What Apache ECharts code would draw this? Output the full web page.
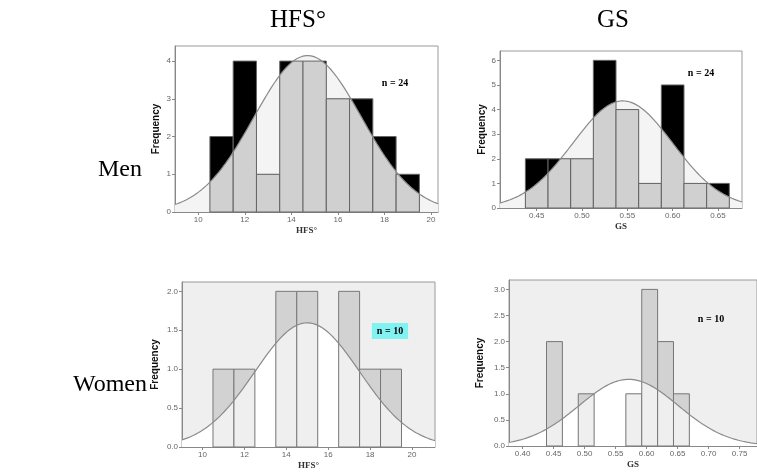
<!DOCTYPE html>
<html>
<head>
<meta charset="utf-8">
<script src="https://cdn.jsdelivr.net/npm/echarts@6/dist/echarts.min.js"></script>
<style>
html,body{margin:0;padding:0;background:#fff;overflow:hidden}
#chart{width:757px;height:472px}
</style>
</head>
<body>
<div id="chart"></div>
<script>
// men, HFS
var hfsMenStart = 10.5, hfsMenWidth = 1;
var hfsMenCounts = [2, 4, 1, 4, 4, 3, 3, 2, 1];
var hfsMenMean = 14.7, hfsMenSd = 2.31;
// men, GS
var gsMenStart = 0.4375, gsMenWidth = 0.025;
var gsMenCounts = [2, 2, 2, 6, 4, 1, 5, 1, 1];
var gsMenMean = 0.545, gsMenSd = 0.055;
// women, HFS
var hfsWomenStart = 10.5, hfsWomenWidth = 1;
var hfsWomenCounts = [1, 1, 0, 2, 2, 0, 2, 1, 1];
var hfsWomenMean = 15.0, hfsWomenSd = 2.5;
// women, GS
var gsWomenStart = 0.4385, gsWomenWidth = 0.0256;
var gsWomenCounts = [2, 0, 1, 0, 0, 1, 3, 2, 1];
var gsWomenMean = 0.571, gsWomenSd = 0.08;

// tick labels
var hfsTicks = [10, 12, 14, 16, 18, 20];
var gsMenTicks = [0.45, 0.50, 0.55, 0.60, 0.65];
var gsWomenTicks = [0.40, 0.45, 0.50, 0.55, 0.60, 0.65, 0.70, 0.75];
var freqHfsMen = [0, 1, 2, 3, 4];
var freqGsMen = [0, 1, 2, 3, 4, 5, 6];
var freqHfsWomen = [0, 0.5, 1.0, 1.5, 2.0];
var freqGsWomen = [0, 0.5, 1.0, 1.5, 2.0, 2.5, 3.0];

var nMen = 24, nWomen = 10;

function normalCurve(n, w, m, sd){
	return function(x){
		var z = (x - m) / sd;
		return n * w / (sd * Math.sqrt(2 * Math.PI)) * Math.exp(-0.5 * z * z);
	};
}

var menStyle = {bg: '#ffffff', under: '#f4f4f4', above: '#000000', below: '#d0d0d0', edge: '#666666'};
var womenStyle = {bg: '#efefef', under: '#ffffff', above: '#d2d2d2', below: '#efefef', edge: '#777777'};

var panels = [
	{grid: {left: 175, top: 46, width: 263, height: 166}, xmin: 9, xmax: 20.3, ymax: 4.4, ygap: 14,
	 start: hfsMenStart, w: hfsMenWidth, counts: hfsMenCounts, n: nMen, mean: hfsMenMean, sd: hfsMenSd,
	 xticks: hfsTicks, yticks: freqHfsMen, xdec: 0, ydec: 0, xname: 'HFS°', st: menStyle},
	{grid: {left: 500, top: 51, width: 242, height: 157}, xmin: 0.4095, xmax: 0.6765, ymax: 6.38, ygap: 12,
	 start: gsMenStart, w: gsMenWidth, counts: gsMenCounts, n: nMen, mean: gsMenMean, sd: gsMenSd,
	 xticks: gsMenTicks, yticks: freqGsMen, xdec: 2, ydec: 0, xname: 'GS', st: menStyle},
	{grid: {left: 182, top: 282, width: 253, height: 165}, xmin: 9.02, xmax: 21.1, ymax: 2.12, ygap: 22,
	 start: hfsWomenStart, w: hfsWomenWidth, counts: hfsWomenCounts, n: nWomen, mean: hfsWomenMean, sd: hfsWomenSd,
	 xticks: hfsTicks, yticks: freqHfsWomen, xdec: 0, ydec: 1, xname: 'HFS°', st: womenStyle},
	{grid: {left: 509, top: 280, right: -10, height: 166}, xmin: 0.378, xmax: 0.778, ymax: 3.18, ygap: 24,
	 start: gsWomenStart, w: gsWomenWidth, counts: gsWomenCounts, n: nWomen, mean: gsWomenMean, sd: gsWomenSd,
	 xticks: gsWomenTicks, yticks: freqGsWomen, xdec: 2, ydec: 1, xname: 'GS', st: womenStyle}
];

var grids = [], xAxes = [], yAxes = [], series = [];

panels.forEach(function(p, i){
	p.curve = normalCurve(p.n, p.w, p.mean, p.sd);
	var g = Object.assign({show: true, backgroundColor: p.st.bg, borderColor: '#9a9a9a', borderWidth: 1}, p.grid);
	grids.push(g);
	xAxes.push({
		type: 'value', gridIndex: i, min: p.xmin, max: p.xmax,
		name: p.xname, nameLocation: 'middle', nameGap: 14,
		nameTextStyle: {fontFamily: 'Liberation Serif', fontWeight: 'bold', fontSize: 9, color: '#333'},
		axisLine: {lineStyle: {color: '#888'}},
		axisTick: {customValues: p.xticks, length: 3, lineStyle: {color: '#888'}},
		axisLabel: {customValues: p.xticks, fontSize: 8, color: '#666', margin: 4,
			formatter: function(v){ return v.toFixed(p.xdec); }},
		splitLine: {show: false}
	});
	yAxes.push({
		type: 'value', gridIndex: i, min: 0, max: p.ymax,
		name: 'Frequency', nameLocation: 'middle', nameRotate: 90, nameGap: p.ygap,
		nameTextStyle: {fontFamily: 'Liberation Sans', fontWeight: 'bold', fontSize: 10, color: '#111'},
		axisLine: {show: true, lineStyle: {color: '#888'}},
		axisTick: {show: true, customValues: p.yticks, length: 3, lineStyle: {color: '#888'}},
		axisLabel: {customValues: p.yticks, fontSize: 8, color: '#666', margin: 4,
			formatter: function(v){ return v.toFixed(p.ydec); }},
		splitLine: {show: false}
	});

	var pts = [];
	for (var k = 0; k <= 120; k++) {
		var x = p.xmin + (p.xmax - p.xmin) * k / 120;
		pts.push([x, p.curve(x)]);
	}
	var bars = p.counts.map(function(c, j){
		return [p.start + j * p.w, p.start + (j + 1) * p.w, c];
	});

	series.push({
		type: 'line', xAxisIndex: i, yAxisIndex: i, data: pts, showSymbol: false, z: 1,
		lineStyle: {width: 0}, areaStyle: {color: p.st.under, opacity: 1}, silent: true
	});
	series.push({
		type: 'custom', xAxisIndex: i, yAxisIndex: i, data: bars, z: 2,
		encode: {x: [0, 1], y: 2},
		renderItem: function(params, api){
			var x0 = api.value(0), x1 = api.value(1), h = api.value(2);
			if (!h) return;
			var tl = api.coord([x0, h]), br = api.coord([x1, 0]);
			var rect = {x: tl[0], y: tl[1], width: br[0] - tl[0], height: br[1] - tl[1]};
			var poly = [api.coord([x0, 0])];
			for (var s = 0; s <= 30; s++) {
				var xx = x0 + (x1 - x0) * s / 30;
				poly.push(api.coord([xx, Math.min(h, p.curve(xx))]));
			}
			poly.push(api.coord([x1, 0]));
			return {type: 'group', children: [
				{type: 'rect', shape: rect, style: {fill: p.st.above}},
				{type: 'polygon', shape: {points: poly}, style: {fill: p.st.below}},
				{type: 'rect', shape: rect, style: {fill: 'none', stroke: p.st.edge, lineWidth: 1}}
			]};
		}
	});
	series.push({
		type: 'line', xAxisIndex: i, yAxisIndex: i, data: pts, showSymbol: false, z: 3,
		lineStyle: {color: '#8a8a8a', width: 1.2}, silent: true
	});
});

function label(text, x, y, size, extra){
	return {type: 'text', x: x, y: y, style: Object.assign({
		text: text, fontFamily: 'Liberation Serif', fontSize: size, fill: '#000',
		align: 'center', verticalAlign: 'middle'}, extra || {})};
}

var myChart = echarts.init(document.getElementById('chart'));
myChart.setOption({
	animation: false,
	grid: grids,
	xAxis: xAxes,
	yAxis: yAxes,
	series: series,
	graphic: [
		label('HFS°', 298, 20, 25),
		label('GS', 613, 20, 25),
		label('Men', 120, 170, 24),
		label('Women', 110, 385, 24),
		label('n = ' + nMen, 395, 83, 10, {fontWeight: 'bold'}),
		label('n = ' + nMen, 701, 73, 10, {fontWeight: 'bold'}),
		label('n = ' + nWomen, 390, 331, 10, {fontWeight: 'bold', backgroundColor: '#80f2f2', padding: [3, 5]}),
		label('n = ' + nWomen, 711, 319, 10, {fontWeight: 'bold'})
	]
});
window.addEventListener('resize', function(){ myChart.resize(); });
</script>
</body>
</html>
